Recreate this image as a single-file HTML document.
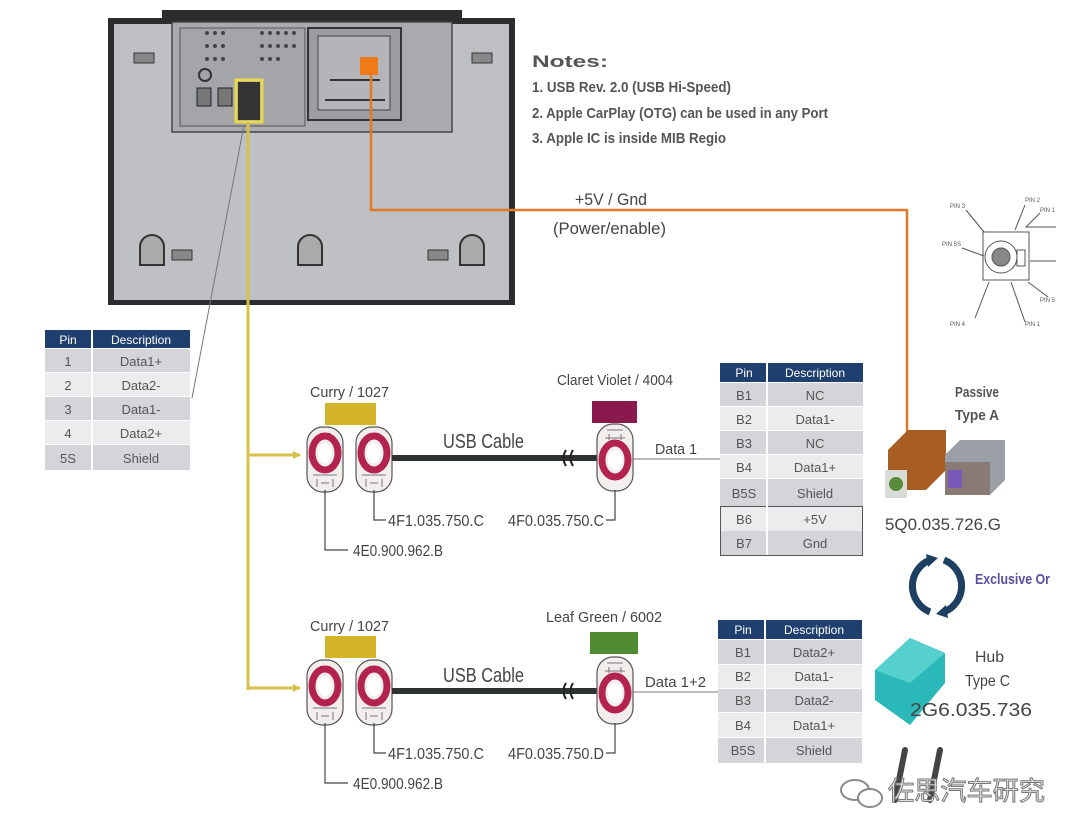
<!DOCTYPE html>
<html><head><meta charset="utf-8"><style>
html,body{margin:0;padding:0;background:#fff;}
svg{display:block;}
text{font-family:"Liberation Sans","Noto Sans CJK SC",sans-serif;}
</style></head><body>
<svg width="1080" height="837" viewBox="0 0 1080 837" xmlns="http://www.w3.org/2000/svg">
<defs>
<g id="conn">
  <rect x="-18" y="-30" width="36" height="65" rx="16" fill="#f2eeee" stroke="#555" stroke-width="1.2"/>
  <ellipse cx="0" cy="-4" rx="13" ry="17" fill="none" stroke="#b3234e" stroke-width="7"/>
  <ellipse cx="0" cy="-4" rx="7" ry="10" fill="#fff"/>
  <rect x="-15" y="-12" width="4" height="8" fill="#b3234e"/>
  <rect x="11" y="-12" width="4" height="8" fill="#b3234e"/>
  <rect x="-5" y="-24" width="10" height="4" fill="#b3234e"/>
  <path d="M-12 18 h24 M-8 22 v8 M8 22 v8 M-4 26 h8" stroke="#777" stroke-width="1" fill="none"/>
</g>
<g id="connR">
  <rect x="-18" y="-32" width="36" height="67" rx="16" fill="#f2eeee" stroke="#555" stroke-width="1.2"/>
  <path d="M-8 -26 h16 M-6 -22 v6 M6 -22 v6 M-10 -18 h20" stroke="#777" stroke-width="1" fill="none"/>
  <ellipse cx="0" cy="4" rx="13" ry="17" fill="none" stroke="#b3234e" stroke-width="7"/>
  <ellipse cx="0" cy="4" rx="7" ry="10" fill="#fff"/>
  <rect x="-15" y="2" width="4" height="8" fill="#b3234e"/>
  <rect x="11" y="2" width="4" height="8" fill="#b3234e"/>
</g>
<marker id="arr" markerWidth="8" markerHeight="8" refX="7" refY="4" orient="auto" markerUnits="userSpaceOnUse">
  <path d="M0 0 L8 4 L0 8 z" fill="#d8c14a"/>
</marker>
</defs>

<!-- Device -->
<path d="M108 18 H162 V10 H462 V18 H515 V305 H108 Z" fill="#2b2c2e"/>
<rect x="114" y="24" width="395" height="276" fill="#bfc0c3"/>
<rect x="172" y="22" width="280" height="110" fill="#a9aaae" stroke="#444" stroke-width="1.5"/>
<rect x="180" y="28" width="125" height="98" fill="#a4a5a9" stroke="#555" stroke-width="1"/>
<rect x="308" y="28" width="93" height="92" fill="#9c9da1" stroke="#333" stroke-width="2"/>
<rect x="318" y="36" width="72" height="74" fill="#b4b5b8" stroke="#444" stroke-width="1"/>
<g fill="#444">
<circle cx="207" cy="33" r="2"/><circle cx="215" cy="33" r="2"/><circle cx="223" cy="33" r="2"/>
<circle cx="207" cy="46" r="2"/><circle cx="215" cy="46" r="2"/><circle cx="223" cy="46" r="2"/>
<circle cx="207" cy="59" r="2"/><circle cx="215" cy="59" r="2"/><circle cx="223" cy="59" r="2"/>
<circle cx="262" cy="33" r="2"/><circle cx="270" cy="33" r="2"/><circle cx="278" cy="33" r="2"/><circle cx="286" cy="33" r="2"/><circle cx="294" cy="33" r="2"/>
<circle cx="262" cy="46" r="2"/><circle cx="270" cy="46" r="2"/><circle cx="278" cy="46" r="2"/><circle cx="286" cy="46" r="2"/><circle cx="294" cy="46" r="2"/>
<circle cx="262" cy="59" r="2"/><circle cx="270" cy="59" r="2"/><circle cx="278" cy="59" r="2"/>
</g>
<circle cx="205" cy="75" r="6" fill="none" stroke="#333" stroke-width="2"/>
<rect x="197" y="88" width="14" height="18" fill="#777" stroke="#222"/>
<rect x="218" y="88" width="14" height="18" fill="#777" stroke="#222"/>
<rect x="238" y="82" width="22" height="38" fill="#333"/>
<rect x="236" y="80" width="26" height="42" fill="none" stroke="#e8d94a" stroke-width="3"/>
<path d="M325 100 h60 M330 80 h50" stroke="#333" stroke-width="2"/>
<rect x="360" y="57" width="18" height="18" fill="#f07a16"/>
<g fill="#aaa" stroke="#333" stroke-width="2">
<path d="M140 265 v-18 a12 12 0 0 1 24 0 v18 z"/>
<path d="M298 265 v-18 a12 12 0 0 1 24 0 v18 z"/>
<path d="M460 265 v-18 a12 12 0 0 1 24 0 v18 z"/>
</g>
<g fill="#888" stroke="#333"><rect x="172" y="250" width="20" height="10"/><rect x="428" y="250" width="20" height="10"/><rect x="134" y="53" width="20" height="10"/><rect x="472" y="53" width="20" height="10"/></g>

<!-- Notes -->
<g fill="#555" font-weight="bold">
<text x="532" y="67" font-size="17" textLength="76" lengthAdjust="spacingAndGlyphs">Notes:</text>
<text x="532" y="92" font-size="15" textLength="199" lengthAdjust="spacingAndGlyphs">1. USB Rev. 2.0 (USB Hi-Speed)</text>
<text x="532" y="118" font-size="15" textLength="296" lengthAdjust="spacingAndGlyphs">2. Apple CarPlay (OTG) can be used in any Port</text>
<text x="532" y="143" font-size="15" textLength="194" lengthAdjust="spacingAndGlyphs">3. Apple IC is inside MIB Regio</text>
</g>
<text x="575" y="205" font-size="17" fill="#444" textLength="72" lengthAdjust="spacingAndGlyphs">+5V / Gnd</text>
<text x="553" y="234" font-size="17" fill="#444" textLength="113" lengthAdjust="spacingAndGlyphs">(Power/enable)</text>

<path d="M371 75 V210 H907 V465" fill="none" stroke="#e07a2a" stroke-width="2.5"/>
<path d="M244 125 L192 398" stroke="#777" stroke-width="1"/>

<path d="M248 122 V690" stroke="#d8c14a" stroke-width="3" fill="none"/>
<path d="M248 455 H300" stroke="#d8c14a" stroke-width="3" marker-end="url(#arr)"/>
<path d="M248 688 H300" stroke="#d8c14a" stroke-width="3" marker-end="url(#arr)"/>

<!-- Left table -->
<g font-size="13" fill="#555" text-anchor="middle">
<rect x="45" y="330" width="145" height="18" fill="#1f3f6e"/>
<text x="68" y="344" fill="#fff" font-size="12">Pin</text><text x="141" y="344" fill="#fff" font-size="12">Description</text>
<rect x="45" y="349" width="145" height="23" fill="#d4d5d8"/>
<rect x="45" y="373" width="145" height="23" fill="#ebecee"/>
<rect x="45" y="397" width="145" height="23" fill="#d4d5d8"/>
<rect x="45" y="421" width="145" height="23" fill="#ebecee"/>
<rect x="45" y="445" width="145" height="25" fill="#d4d5d8"/>
<path d="M92 330 V470" stroke="#fff" stroke-width="2"/>
<text x="68" y="366">1</text><text x="141" y="366">Data1+</text>
<text x="68" y="390">2</text><text x="141" y="390">Data2-</text>
<text x="68" y="414">3</text><text x="141" y="414">Data1-</text>
<text x="68" y="438">4</text><text x="141" y="438">Data2+</text>
<text x="68" y="463">5S</text><text x="141" y="463">Shield</text>
</g>

<!-- Group 1 -->
<text x="310" y="397" font-size="15" fill="#444" textLength="79" lengthAdjust="spacingAndGlyphs">Curry / 1027</text>
<rect x="325" y="403" width="51" height="22" fill="#d4b42a"/>
<use href="#conn" x="325" y="457"/>
<use href="#conn" x="374" y="457"/>
<path d="M392 458 H597" stroke="#2f3233" stroke-width="6"/>
<path d="M566 450 q-5 8 0 16 M573 450 q-5 8 0 16" stroke="#222" stroke-width="2" fill="none"/>
<text x="443" y="448" font-size="20" fill="#444" textLength="81" lengthAdjust="spacingAndGlyphs">USB  Cable</text>
<text x="557" y="385" font-size="15" fill="#444" textLength="116" lengthAdjust="spacingAndGlyphs">Claret Violet / 4004</text>
<rect x="592" y="401" width="45" height="22" fill="#8a1a4e"/>
<use href="#connR" x="615" y="456"/>
<text x="655" y="454" font-size="15" fill="#444" textLength="42" lengthAdjust="spacingAndGlyphs">Data 1</text>
<path d="M633 459 H720" stroke="#777" stroke-width="1"/>
<path d="M325 490 V550 H348 M374 490 V520 H386 M615 490 V520 H606" stroke="#444" stroke-width="1.2" fill="none"/>
<g font-size="16" fill="#444">
<text x="353" y="556" textLength="90" lengthAdjust="spacingAndGlyphs">4E0.900.962.B</text>
<text x="388" y="526" textLength="96" lengthAdjust="spacingAndGlyphs">4F1.035.750.C</text>
<text x="508" y="526" textLength="96" lengthAdjust="spacingAndGlyphs">4F0.035.750.C</text>
</g>

<!-- Group 2 -->
<text x="310" y="631" font-size="15" fill="#444" textLength="79" lengthAdjust="spacingAndGlyphs">Curry / 1027</text>
<rect x="325" y="636" width="51" height="22" fill="#d4b42a"/>
<use href="#conn" x="325" y="690"/>
<use href="#conn" x="374" y="690"/>
<path d="M392 691 H597" stroke="#2f3233" stroke-width="6"/>
<path d="M566 683 q-5 8 0 16 M573 683 q-5 8 0 16" stroke="#222" stroke-width="2" fill="none"/>
<text x="443" y="682" font-size="20" fill="#444" textLength="81" lengthAdjust="spacingAndGlyphs">USB  Cable</text>
<text x="546" y="622" font-size="15" fill="#444" textLength="116" lengthAdjust="spacingAndGlyphs">Leaf Green / 6002</text>
<rect x="590" y="632" width="48" height="22" fill="#4e8b32"/>
<use href="#connR" x="615" y="689"/>
<text x="645" y="687" font-size="15" fill="#444" textLength="61" lengthAdjust="spacingAndGlyphs">Data 1+2</text>
<path d="M633 692 H718" stroke="#777" stroke-width="1"/>
<path d="M325 723 V783 H348 M374 723 V753 H386 M615 723 V753 H606" stroke="#444" stroke-width="1.2" fill="none"/>
<g font-size="16" fill="#444">
<text x="353" y="789" textLength="90" lengthAdjust="spacingAndGlyphs">4E0.900.962.B</text>
<text x="388" y="759" textLength="96" lengthAdjust="spacingAndGlyphs">4F1.035.750.C</text>
<text x="508" y="759" textLength="96" lengthAdjust="spacingAndGlyphs">4F0.035.750.D</text>
</g>

<!-- Right table 1 -->
<g font-size="13" fill="#555" text-anchor="middle">
<rect x="720" y="363" width="143" height="19" fill="#1f3f6e"/>
<text x="744" y="377" fill="#fff" font-size="12">Pin</text><text x="815" y="377" fill="#fff" font-size="12">Description</text>
<rect x="720" y="383" width="143" height="23" fill="#d4d5d8"/>
<rect x="720" y="407" width="143" height="23" fill="#ebecee"/>
<rect x="720" y="431" width="143" height="23" fill="#d4d5d8"/>
<rect x="720" y="455" width="143" height="23" fill="#ebecee"/>
<rect x="720" y="479" width="143" height="27" fill="#d4d5d8"/>
<rect x="720" y="507" width="143" height="24" fill="#ebecee"/>
<rect x="720" y="531" width="143" height="24" fill="#d4d5d8"/>
<rect x="720.5" y="506.5" width="142" height="49" fill="none" stroke="#555" stroke-width="1"/>
<path d="M767 363 V555" stroke="#fff" stroke-width="2"/>
<text x="744" y="400">B1</text><text x="815" y="400">NC</text>
<text x="744" y="424">B2</text><text x="815" y="424">Data1-</text>
<text x="744" y="448">B3</text><text x="815" y="448">NC</text>
<text x="744" y="472">B4</text><text x="815" y="472">Data1+</text>
<text x="744" y="498">B5S</text><text x="815" y="498">Shield</text>
<text x="744" y="524">B6</text><text x="815" y="524">+5V</text>
<text x="744" y="548">B7</text><text x="815" y="548">Gnd</text>
</g>

<!-- Right table 2 -->
<g font-size="13" fill="#555" text-anchor="middle">
<rect x="718" y="620" width="144" height="19" fill="#1f3f6e"/>
<text x="743" y="634" fill="#fff" font-size="12">Pin</text><text x="814" y="634" fill="#fff" font-size="12">Description</text>
<rect x="718" y="640" width="144" height="24" fill="#d4d5d8"/>
<rect x="718" y="665" width="144" height="23" fill="#ebecee"/>
<rect x="718" y="689" width="144" height="23" fill="#d4d5d8"/>
<rect x="718" y="713" width="144" height="24" fill="#ebecee"/>
<rect x="718" y="738" width="144" height="25" fill="#d4d5d8"/>
<path d="M765 620 V763" stroke="#fff" stroke-width="2"/>
<text x="743" y="657">B1</text><text x="814" y="657">Data2+</text>
<text x="743" y="681">B2</text><text x="814" y="681">Data1-</text>
<text x="743" y="705">B3</text><text x="814" y="705">Data2-</text>
<text x="743" y="730">B4</text><text x="814" y="730">Data1+</text>
<text x="743" y="755">B5S</text><text x="814" y="755">Shield</text>
</g>

<!-- Pin diagram -->
<g stroke="#555" stroke-width="1" fill="none">
<rect x="983" y="232" width="46" height="48"/>
<circle cx="1001" cy="257" r="16"/><circle cx="1001" cy="257" r="9" fill="#888"/>
<rect x="1017" y="250" width="8" height="16"/>
<path d="M966 210 l18 22 M1025 205 l-10 25 M1040 213 l-14 14 h30 M962 248 l22 8 M1030 261 h26 M1028 282 l20 15 M975 318 l14 -36 M1025 322 l-14 -40"/>
</g>
<g font-size="6" fill="#555">
<text x="950" y="208">PIN 3</text><text x="1025" y="202">PIN 2</text><text x="1040" y="212">PIN 1</text>
<text x="942" y="246">PIN 5S</text><text x="1040" y="302">PIN 5</text><text x="950" y="326">PIN 4</text><text x="1025" y="326">PIN 1</text>
</g>

<!-- Passive Type A -->
<text x="955" y="397" font-size="15" fill="#555" font-weight="bold" textLength="44" lengthAdjust="spacingAndGlyphs">Passive</text>
<text x="955" y="420" font-size="15" fill="#555" font-weight="bold" textLength="44" lengthAdjust="spacingAndGlyphs">Type A</text>
<path d="M888 450 l20 -20 h38 v40 l-20 20 h-38 z" fill="#a85d22"/>
<rect x="885" y="470" width="22" height="28" fill="#d8dcd6"/>
<circle cx="896" cy="484" r="7" fill="#5b8a3a"/>
<path d="M945 455 l15 -15 h45 v40 l-15 15 h-45 z" fill="#9aa0a6"/>
<rect x="945" y="462" width="45" height="33" fill="#8a7a76"/>
<rect x="948" y="470" width="14" height="18" fill="#7a5ab8"/>
<text x="885" y="530" font-size="17" fill="#444" textLength="116" lengthAdjust="spacingAndGlyphs">5Q0.035.726.G</text>

<!-- Exclusive Or -->
<path d="M930 560 A28 28 0 0 0 930 612" stroke="#1d3f62" stroke-width="7" fill="none"/>
<path d="M944 560 A28 28 0 0 1 944 612" stroke="#1d3f62" stroke-width="7" fill="none"/>
<path d="M926 554 l12 4 l-10 9 z" fill="#1d3f62"/>
<path d="M948 618 l-12 -4 l10 -9 z" fill="#1d3f62"/>
<text x="975" y="584" font-size="15" fill="#5a4fa0" font-weight="bold" textLength="75" lengthAdjust="spacingAndGlyphs">Exclusive Or</text>

<!-- Hub -->
<path d="M875 670 l35 -32 l35 15 v30 l-35 42 l-35 -25 z" fill="#2ab8b8"/>
<path d="M875 670 l35 -32 l35 15 l-35 30 z" fill="#55d0cf"/>
<text x="975" y="662" font-size="16" fill="#444" textLength="29" lengthAdjust="spacingAndGlyphs">Hub</text>
<text x="965" y="686" font-size="16" fill="#444" textLength="45" lengthAdjust="spacingAndGlyphs">Type C</text>
<text x="910" y="716" font-size="18" fill="#444" textLength="122" lengthAdjust="spacingAndGlyphs">2G6.035.736</text>
<g stroke="#444" stroke-width="6" stroke-linecap="round">
<path d="M905 750 L895 800"/><path d="M940 750 L930 800"/>
</g>

<!-- watermark -->
<ellipse cx="855" cy="790" rx="14" ry="10" fill="none" stroke="#888" stroke-width="2"/>
<ellipse cx="870" cy="798" rx="12" ry="9" fill="#fff" stroke="#888" stroke-width="2"/>
<text x="888" y="800" font-size="26" fill="#eee" stroke="#777" stroke-width="1" font-family="'Noto Sans CJK SC',sans-serif" textLength="157" lengthAdjust="spacingAndGlyphs">佐思汽车研究</text>
</svg>
</body></html>
